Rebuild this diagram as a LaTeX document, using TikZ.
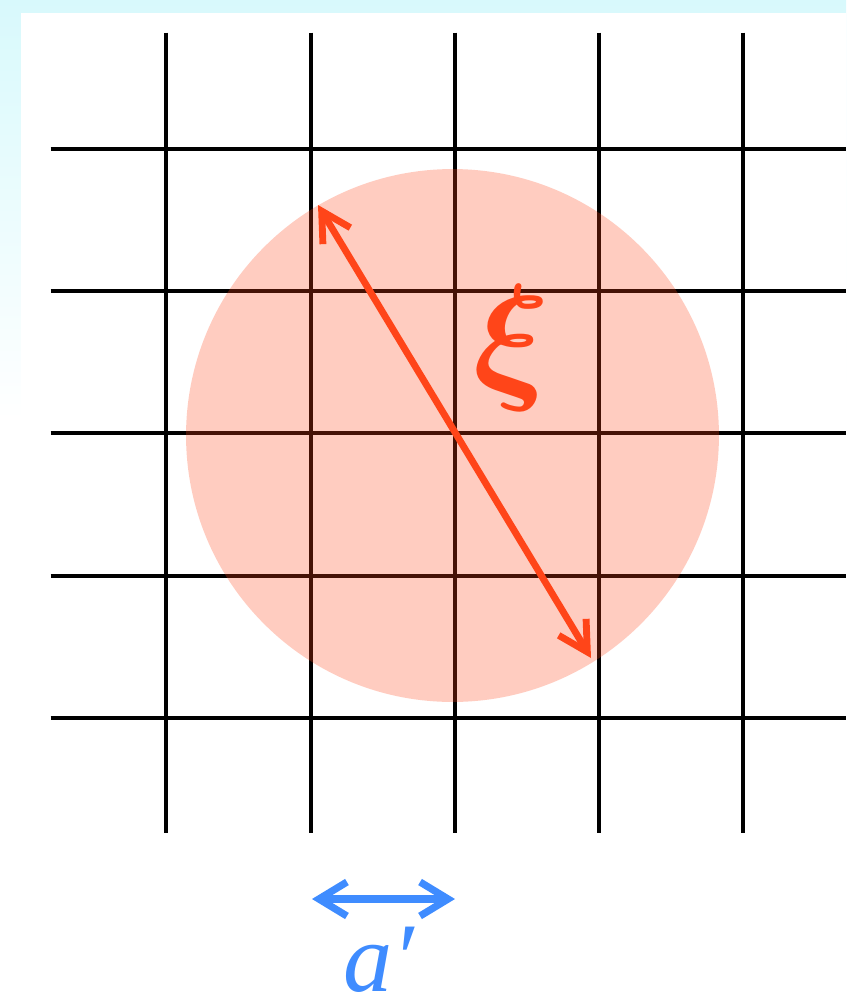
\documentclass[tikz,border=0pt]{standalone}
\usepackage{amsmath}
\usepackage{fontspec}
\newfontfamily\labelfont{Liberation Serif}
\usepackage{xcolor}
\definecolor{corrred}{HTML}{FF4519}
\definecolor{latblue}{HTML}{3F8CFF}
\definecolor{slidecyan}{HTML}{D8F9FC}
\usetikzlibrary{arrows.meta}

\begin{document}
\begin{tikzpicture}[
  x=0.02cm, y=-0.02cm,
  gridline/.style={line width=2.1pt, black},
  blob/.style={circle, fill=corrred, fill opacity=0.27, minimum size=10.66cm, inner sep=0pt},
  corr/.style={{Straight Barb[length=5.8mm, width=6.4mm]}-{Straight Barb[length=5.8mm, width=6.4mm]},
               line width=3.9pt, corrred},
  spacing/.style={{Straight Barb[length=5.6mm, width=6.8mm]}-{Straight Barb[length=5.6mm, width=6.8mm]},
                  line width=4.1pt, latblue},
  biglabel/.style={inner sep=0pt},
]
\useasboundingbox (0,0) rectangle (846,1005);

% ---- slide background
\shade[top color=slidecyan, bottom color=white] (0,0) rectangle (846,420);
\fill[white] (21,13) rectangle (846,1005);

% ---- lattice
\foreach \x in {166, 311, 455, 598.7, 742.7} {
  \draw[gridline] (\x,32.5) -- (\x,833);
}
\foreach \y in {149, 291, 433.3, 576, 718.3} {
  \draw[gridline] (50.5,\y) -- (846,\y);
}

% ---- correlated region
\node[blob] (blob) at (452.5,435.5) {};
\coordinate (xitop) at (318,205);
\coordinate (xibot) at (591,658);
\draw[corr] (xitop) -- (xibot);
\node[biglabel, text=corrred, font=\Huge, scale=3.25] (xi) at (512,348) {$\boldsymbol{\xi}$};

% ---- lattice spacing
\coordinate (aleft) at (312,899);
\coordinate (aright) at (455,899);
\draw[spacing] (aleft) -- (aright);
\node[biglabel, anchor=base west, text depth=0pt, text=latblue,
      font=\labelfont\itshape\fontsize{56}{60}\selectfont] (alabel) at (343,991) {a′};
\end{tikzpicture}
\end{document}
